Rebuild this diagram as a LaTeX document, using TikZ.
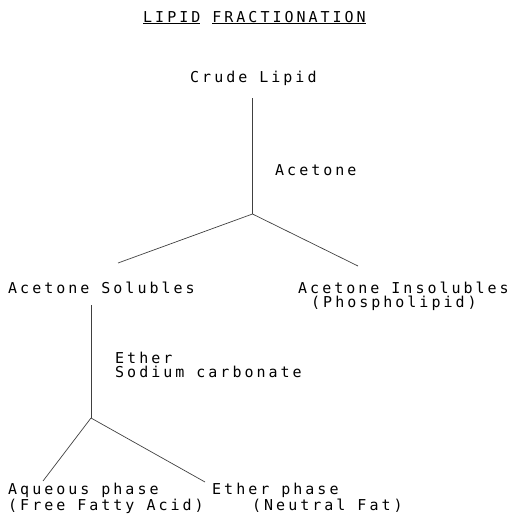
\documentclass[tikz,border=0pt]{standalone}
\usepackage{fontspec}
\usepackage{tikz}
\newfontfamily\typer{DejaVu Sans Mono}[LetterSpace=20]

\begin{document}
\begin{tikzpicture}[x=1pt,y=-1pt,
    txt/.style={anchor=base west,inner sep=0pt,align=left,font=\typer\fontsize{15}{13.5}\selectfont},
    lnk/.style={black!75,line width=0.7pt}]
                \useasboundingbox (0,0) rectangle (512,522);
                % title
                \node[txt] (title) at (143,22) {\underline{LIPID} \underline{FRACTIONATION}};
                % first step
                \node[txt] (crude) at (190,82) {Crude Lipid};
                \node[txt] (acetone) at (275,175) {Acetone};
                \node[txt] (solubles) at (8,293) {Acetone Solubles};
                \node[txt] (insolubles) at (298,307) {Acetone Insolubles\\\hspace*{13pt}(Phospholipid)};
                \coordinate (crudeend) at (252.5,98);
                \coordinate (split1) at (252.5,214);
                \coordinate (solend) at (118,263);
                \coordinate (insolend) at (358,266);
                \draw[lnk] (crudeend) -- (split1);
                \draw[lnk] (split1) -- (solend);
                \draw[lnk] (split1) -- (insolend);
                % second step
                \node[txt] (ether) at (115,377) {Ether\\Sodium carbonate};
                \node[txt] (aqueous) at (8,510) {Aqueous phase\\(Free Fatty Acid)};
                \node[txt] (etherphase) at (212,510) {Ether phase\\\hspace*{40pt}(Neutral Fat)};
                \coordinate (solstart) at (91,305);
                \coordinate (split2) at (91,418);
                \coordinate (aqend) at (43,481);
                \coordinate (ethend) at (205,482);
                \draw[lnk] (solstart) -- (split2);
                \draw[lnk] (split2) -- (aqend);
                \draw[lnk] (split2) -- (ethend);
            \end{tikzpicture}
\end{document}
